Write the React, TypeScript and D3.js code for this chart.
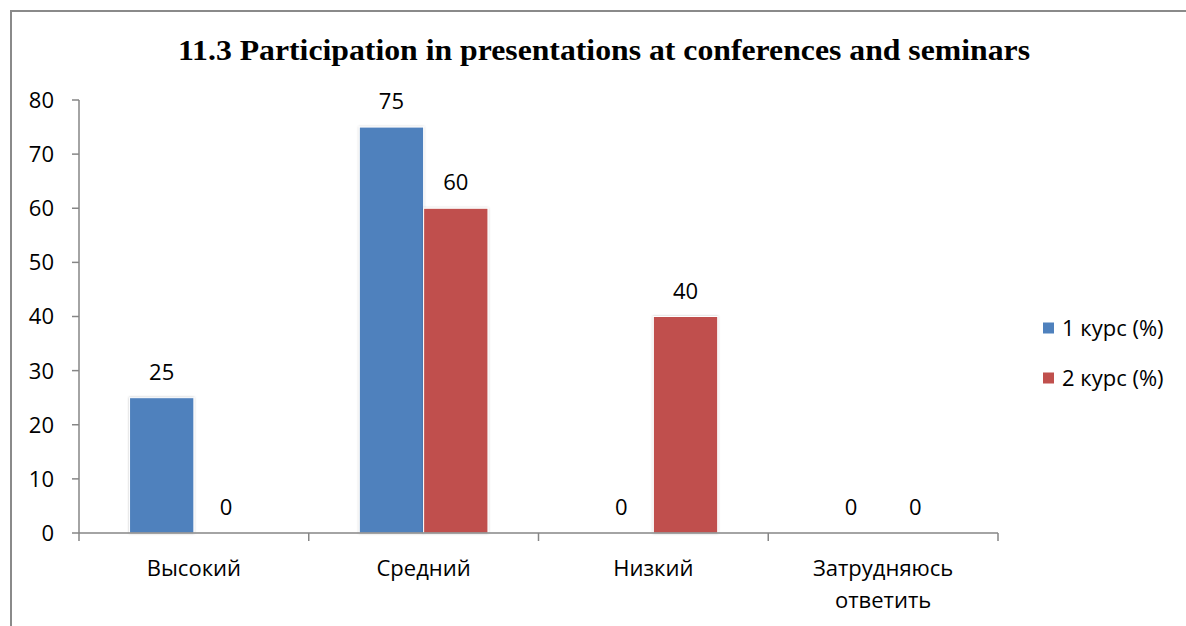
import React from "react";
import * as d3 from "d3";

const categories = ["Высокий", "Средний", "Низкий", "Затрудняюсь ответить"];
const categoryLines = [["Высокий"], ["Средний"], ["Низкий"], ["Затрудняюсь", "ответить"]];
const series = ["1 курс (%)", "2 курс (%)"];
const course1 = [25, 75, 0, 0];
const course2 = [0, 60, 40, 0];
const yTicks = [0, 10, 20, 30, 40, 50, 60, 70, 80];
const colors = ["#4F81BD", "#C0504D"];
const title = "11.3 Participation in presentations at conferences and seminars";

export default function App() {
  const W = 1186, H = 626;
  const left = 79, right = 998, top = 100, bottom = 533;
  const font = "'Open Sans', 'Noto Sans', sans-serif";
  const fs = 22;
  const x = d3.scaleBand<string>().domain(categories).range([left, right]).paddingInner(0).paddingOuter(0);
  const y = d3.scaleLinear().domain([0, 80]).range([bottom, top]);
  const bw = x.bandwidth();
  const groupW = bw * 0.56;
  const xs = d3.scaleBand<string>().domain(series).range([0, groupW]);
  const data = [course1, course2];
  const axisColor = "#868686";

  return (
    <svg width={W} height={H} style={{ position: "absolute", left: 0, top: 0, background: "#fff" }}>
      <defs>
        <filter id="sh" x="-20%" y="-20%" width="140%" height="140%">
          <feDropShadow dx="0" dy="0" stdDeviation="1.2" floodColor="#000" floodOpacity="0.25" />
        </filter>
      </defs>
      <rect x={0} y={0} width={W} height={H} fill="#fff" />
      <rect x={11} y={11} width={W + 20} height={H + 20} fill="none" stroke="#8a8a8a" strokeWidth={2} />
      <text x={178} y={60} textLength={852} lengthAdjust="spacingAndGlyphs" fontFamily="'Liberation Serif', 'Times New Roman', serif" fontWeight="bold" fontSize={30}>
        {title}
      </text>

      {/* bars */}
      {categories.map((c, i) =>
        series.map((s, j) => {
          const v = data[j][i];
          const bx = (x(c) as number) + (bw - groupW) / 2 + (xs(s) as number);
          const w = xs.bandwidth();
          return (
            <g key={c + s}>
              {v > 0 && (
                <rect x={bx} y={y(v)} width={w} height={y(0) - y(v)} fill={colors[j]} stroke="#fff" strokeWidth={1} filter="url(#sh)" />
              )}
              <text x={bx + w / 2} y={y(v) - 18} textAnchor="middle" fontFamily={font} fontSize={fs} fill="#000">
                {v}
              </text>
            </g>
          );
        })
      )}

      {/* y axis */}
      <line x1={left} x2={left} y1={top} y2={bottom + 8} stroke={axisColor} strokeWidth={1.5} />
      {yTicks.map((t) => (
        <g key={t}>
          <line x1={left - 7} x2={left} y1={y(t)} y2={y(t)} stroke={axisColor} strokeWidth={1.5} />
          <text x={54} y={y(t)} dy="0.36em" textAnchor="end" fontFamily={font} fontSize={fs} fill="#000">
            {t}
          </text>
        </g>
      ))}

      {/* x axis */}
      <line x1={left} x2={right} y1={bottom} y2={bottom} stroke={axisColor} strokeWidth={1.5} />
      {categories.map((c) => (
        <line key={"t" + c} x1={(x(c) as number) + bw} x2={(x(c) as number) + bw} y1={bottom} y2={bottom + 8} stroke={axisColor} strokeWidth={1.5} />
      ))}
      {categories.map((c, i) => (
        <text key={"l" + c} textAnchor="middle" fontFamily={font} fontSize={fs} fill="#000">
          {categoryLines[i].map((ln, k) => (
            <tspan key={k} x={(x(c) as number) + bw / 2} y={576 + k * 32}>
              {ln}
            </tspan>
          ))}
        </text>
      ))}

      {/* legend */}
      {series.map((s, j) => (
        <g key={s} transform={`translate(1043, ${328 + j * 50})`}>
          <rect x={0} y={-5.5} width={11} height={11} fill={colors[j]} />
          <text x={19} y={0} dy="0.36em" fontFamily={font} fontSize={fs} fill="#000">
            {s}
          </text>
        </g>
      ))}
    </svg>
  );
}
